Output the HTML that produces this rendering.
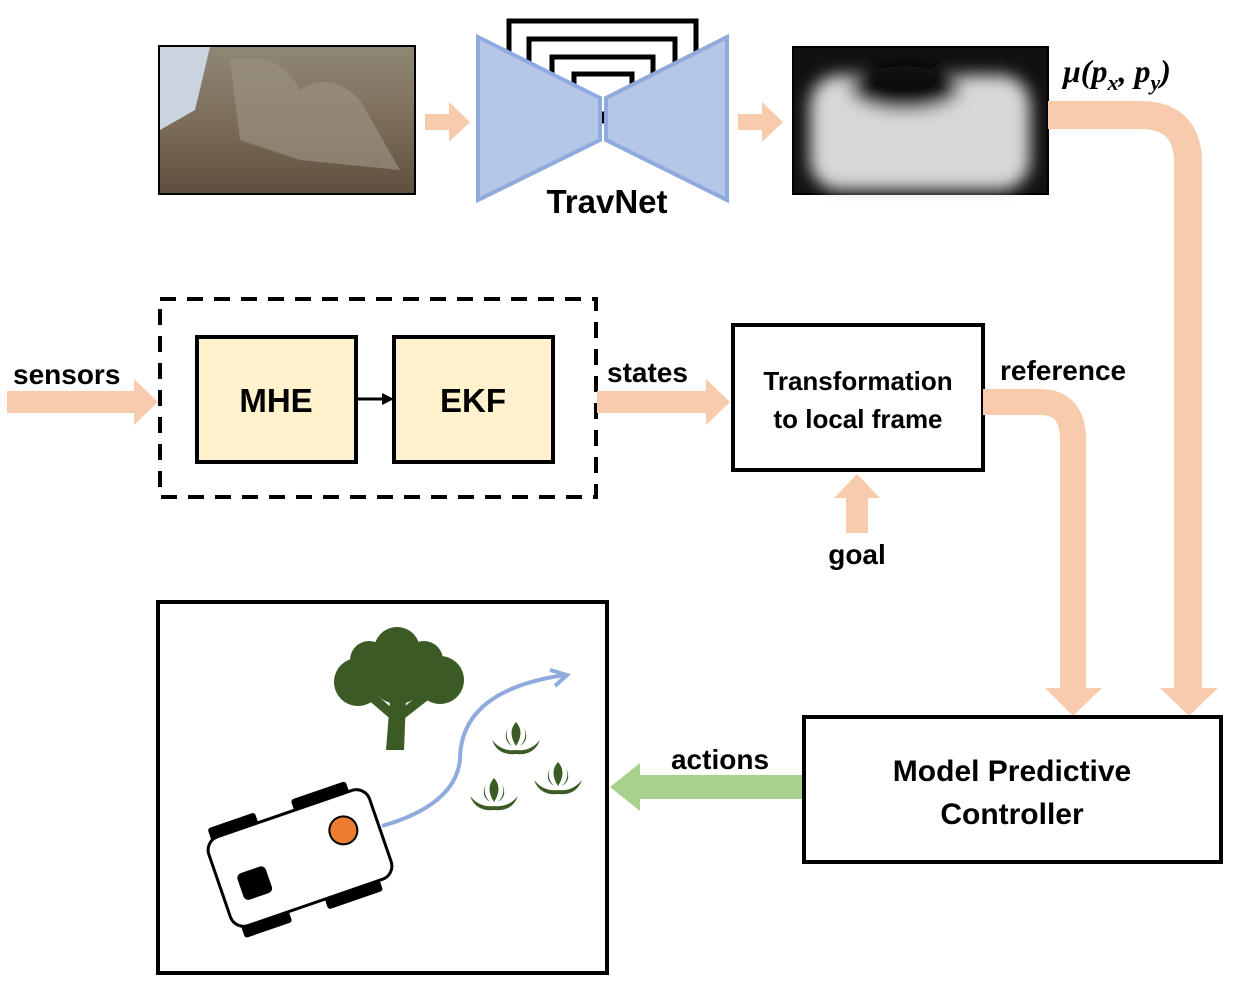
<!DOCTYPE html><html><head><style>body{margin:0;background:#fff}svg{display:block}text{font-family:"Liberation Sans",sans-serif;font-weight:bold}</style></head><body>
<svg width="1236" height="985" viewBox="0 0 1236 985" xmlns="http://www.w3.org/2000/svg">
<defs>
<linearGradient id="g1" x1="0" y1="0" x2="0" y2="1"><stop offset="0" stop-color="#8f8777"/><stop offset=".5" stop-color="#7d6e5a"/><stop offset="1" stop-color="#5f4f3e"/></linearGradient>
<radialGradient id="g2" cx=".5" cy=".65" r=".55"><stop offset="0" stop-color="#e8e8e8"/><stop offset=".6" stop-color="#d0d0d0"/><stop offset=".85" stop-color="#555"/><stop offset="1" stop-color="#111"/></radialGradient>
<filter id="bl"><feGaussianBlur stdDeviation="8"/></filter>
</defs>
<rect x="159" y="46" width="256" height="148" fill="url(#g1)" stroke="#000" stroke-width="2"/>
<path d="M160 47 L210 47 L195 110 L160 130Z" fill="#c9d4de"/>
<path d="M230 60 Q280 50 300 90 Q330 70 360 100 L400 170 L300 160 L240 140Z" fill="#9a9081" opacity=".7"/>
<path d="M425 114 H449 V102 L470 122 L449 142 V130 H425Z" fill="#F8CBAD"/>
<g fill="none" stroke="#000" stroke-width="5">
<rect x="509" y="21" width="187" height="100"/><rect x="529" y="39" width="146" height="80"/><rect x="552" y="57" width="101" height="60"/><rect x="574" y="74" width="58" height="40"/>
</g>
<polygon points="478,37 600,98 600,140 478,200" fill="#B4C7E7" stroke="#8FAADC" stroke-width="4"/>
<polygon points="727,37 606,98 606,140 727,200" fill="#B4C7E7" stroke="#8FAADC" stroke-width="4"/>
<text x="607" y="213" font-size="33" text-anchor="middle">TravNet</text>
<path d="M738 114 H762 V102 L783 122 L762 142 V130 H738Z" fill="#F8CBAD"/>
<rect x="793" y="47" width="255" height="147" fill="#111" stroke="#000" stroke-width="2"/>
<g filter="url(#bl)">
<rect x="810" y="75" width="220" height="115" rx="30" fill="#d8d8d8"/>
<ellipse cx="905" cy="88" rx="55" ry="22" fill="#0a0a0a"/>
</g>
<text x="1063" y="82" font-size="32" font-style="italic" style="font-family:'Liberation Serif',serif">μ(p<tspan font-size="22" dy="8">x</tspan><tspan dy="-8">, p</tspan><tspan font-size="22" dy="8">y</tspan><tspan dy="-8">)</tspan></text>
<path d="M1048 115 H1140 Q1188 115 1188 163 V690" fill="none" stroke="#F8CBAD" stroke-width="28"/>
<polygon points="1160,688 1218,688 1189,716" fill="#F8CBAD"/>
<text x="13" y="384" font-size="28">sensors</text>
<path d="M7 391 H134 V379 L158 402 L134 425 V413 H7Z" fill="#F8CBAD"/>
<rect x="160" y="299" width="436" height="198" fill="none" stroke="#000" stroke-width="4" stroke-dasharray="16,11"/>
<rect x="197" y="337" width="159" height="125" fill="#FFF2CC" stroke="#000" stroke-width="4"/>
<rect x="394" y="337" width="159" height="125" fill="#FFF2CC" stroke="#000" stroke-width="4"/>
<text x="276" y="412" font-size="33" text-anchor="middle">MHE</text>
<text x="473" y="412" font-size="33" text-anchor="middle">EKF</text>
<line x1="356" y1="399" x2="384" y2="399" stroke="#000" stroke-width="3"/>
<polygon points="382,393 394,399 382,405"/>
<text x="607" y="382" font-size="28">states</text>
<path d="M597 391 H706 V379 L730 402 L706 425 V413 H597Z" fill="#F8CBAD"/>
<rect x="733" y="325" width="250" height="145" fill="#fff" stroke="#000" stroke-width="4"/>
<text x="858" y="390" font-size="26" text-anchor="middle">Transformation</text>
<text x="858" y="428" font-size="26" text-anchor="middle">to local frame</text>
<path d="M846 533 V498 H834 L857 474 L880 498 H868 V533Z" fill="#F8CBAD"/>
<text x="857" y="564" font-size="28" text-anchor="middle">goal</text>
<text x="1000" y="380" font-size="28">reference</text>
<path d="M983 402 H1040 Q1073 402 1073 440 V690" fill="none" stroke="#F8CBAD" stroke-width="26"/>
<polygon points="1045,688 1102,688 1073,716" fill="#F8CBAD"/>
<rect x="804" y="717" width="417" height="145" fill="#fff" stroke="#000" stroke-width="4"/>
<text x="1012" y="781" font-size="30" text-anchor="middle">Model Predictive</text>
<text x="1012" y="824" font-size="30" text-anchor="middle">Controller</text>
<text x="720" y="769" font-size="28" text-anchor="middle">actions</text>
<path d="M802 775 H640 V763 L610 787 L640 811 V799 H802Z" fill="#A9D18E"/>
<rect x="158" y="602" width="449" height="371" fill="#fff" stroke="#000" stroke-width="4"/>
<g fill="#3B5A24">
<circle cx="397" cy="650" r="23"/><circle cx="369" cy="660" r="19"/><circle cx="424" cy="660" r="19"/>
<circle cx="358" cy="682" r="24"/><circle cx="440" cy="680" r="24"/><circle cx="398" cy="676" r="28"/>
<path d="M386 750 L390 700 L406 700 L404 750Z"/>
<path d="M394 722 L366 698 L374 692 L398 714Z"/><path d="M400 722 L432 697 L424 690 L396 714Z"/>
</g>
<path d="M382 826 Q455 805 460 760 Q460 690 565 675" fill="none" stroke="#8FAADC" stroke-width="4"/>
<path d="M550 670 L567 675 L555 686" fill="none" stroke="#8FAADC" stroke-width="4"/>
<g fill="#3B5A24">
<g transform="translate(516,738)"><path d="M0 -16 q-9 10 0 24 q9 -14 0 -24Z"/><path d="M-8 -10 q-6 12 4 18 q-8 -8 -4 -18Z M8 -10 q6 12 -4 18 q8 -8 4 -18Z"/><path d="M-24 2 q6 16 24 14 q18 2 24 -14 q-10 12 -24 10 q-14 2 -24 -10Z"/></g>
<g transform="translate(494,794)"><path d="M0 -16 q-9 10 0 24 q9 -14 0 -24Z"/><path d="M-8 -10 q-6 12 4 18 q-8 -8 -4 -18Z M8 -10 q6 12 -4 18 q8 -8 4 -18Z"/><path d="M-24 2 q6 16 24 14 q18 2 24 -14 q-10 12 -24 10 q-14 2 -24 -10Z"/></g>
<g transform="translate(558,778)"><path d="M0 -16 q-9 10 0 24 q9 -14 0 -24Z"/><path d="M-8 -10 q-6 12 4 18 q-8 -8 -4 -18Z M8 -10 q6 12 -4 18 q8 -8 4 -18Z"/><path d="M-24 2 q6 16 24 14 q18 2 24 -14 q-10 12 -24 10 q-14 2 -24 -10Z"/></g>
</g>
<g transform="translate(300,858) rotate(-19)">
<rect x="-78" y="-58" width="50" height="14" rx="3"/><rect x="10" y="-58" width="58" height="14" rx="3"/>
<rect x="-78" y="44" width="50" height="14" rx="3"/><rect x="10" y="44" width="58" height="14" rx="3"/>
<rect x="-85" y="-47" width="170" height="94" rx="14" fill="#fff" stroke="#000" stroke-width="3"/>
<rect x="-66" y="-5" width="30" height="28" rx="5"/>
<circle cx="50" cy="-12" r="14" fill="#ED7D31" stroke="#000" stroke-width="2"/>
</g>
</svg></body></html>
